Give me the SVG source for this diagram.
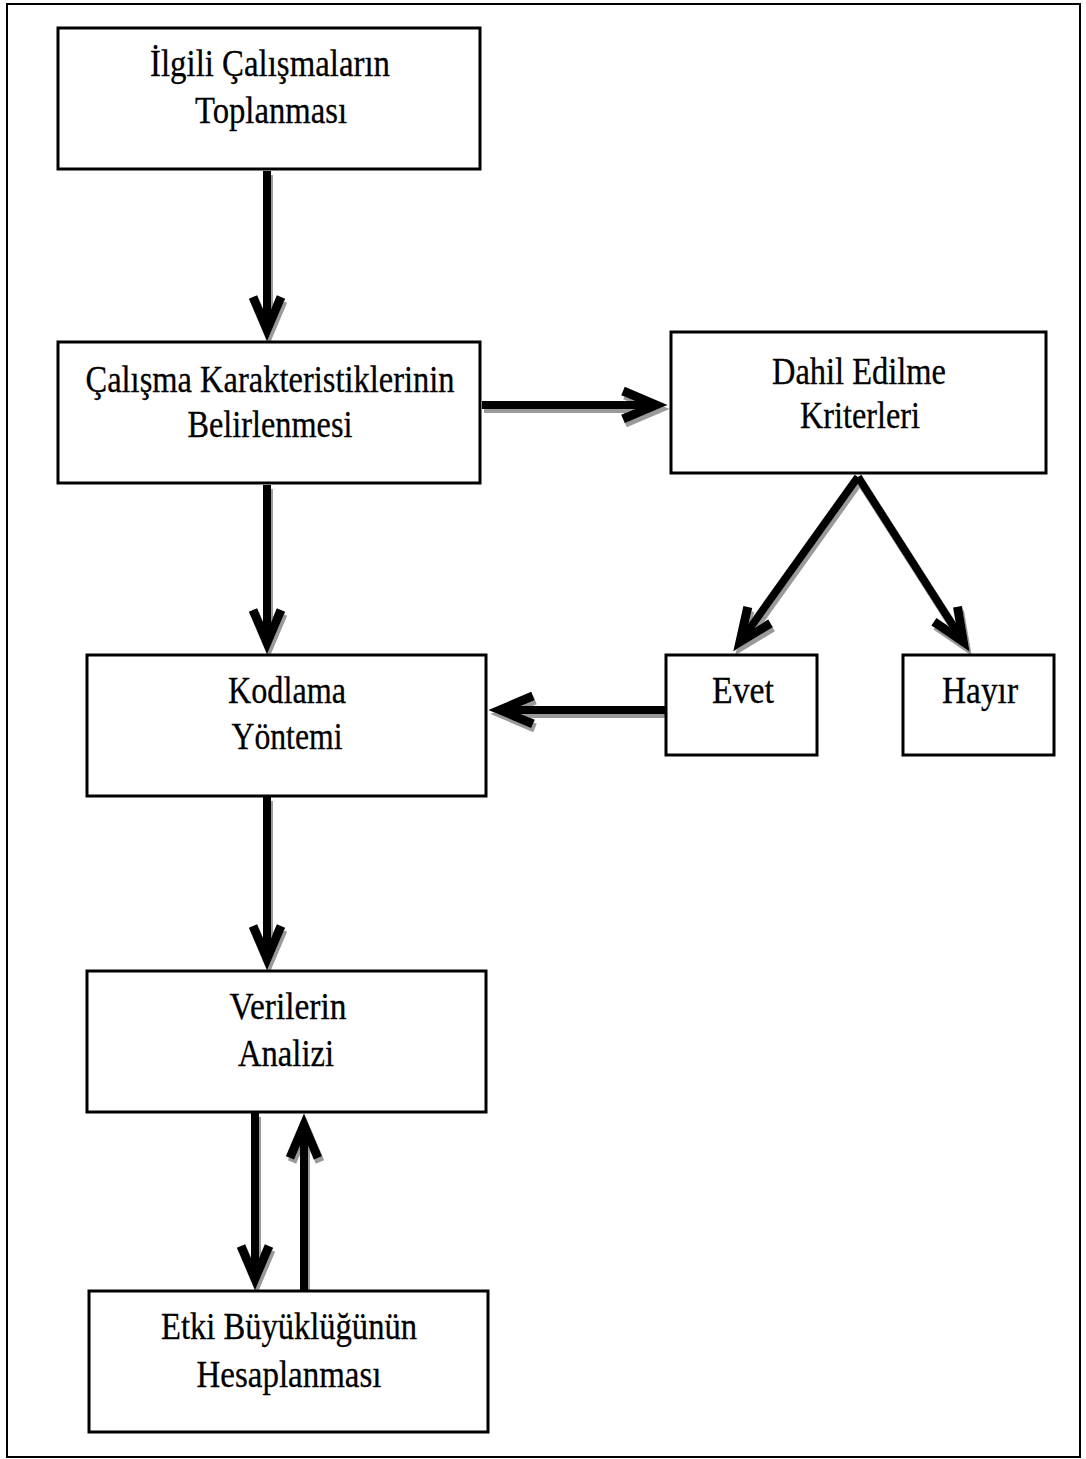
<svg xmlns="http://www.w3.org/2000/svg" width="1086" height="1459" viewBox="0 0 1086 1459">
<style>
.box{fill:#fff;stroke:#000;stroke-width:3}
.t{font-family:"Liberation Serif","Times New Roman",serif;font-size:38px;fill:#000;stroke:#000;stroke-width:0.3;text-anchor:middle}
.c{fill:none;stroke:#000;stroke-width:8}
</style>
<defs>
<marker id="ah" markerUnits="userSpaceOnUse" viewBox="-45 -22 70 44" markerWidth="70" markerHeight="44" refX="0" refY="0" orient="auto" overflow="visible">
<path d="M-33,-14 L0,0 L-33,14" fill="none" stroke="#000" stroke-width="9"/>
</marker>
<filter id="sh" x="-20%" y="-20%" width="140%" height="140%">
<feDropShadow dx="2" dy="4" stdDeviation="0.6" flood-color="#9a9a9a"/>
</filter>
</defs>
<rect x="0" y="0" width="1086" height="1459" fill="#fff"/>
<rect x="7" y="4" width="1073" height="1453" fill="none" stroke="#000" stroke-width="2"/>
<g id="connectors" filter="url(#sh)">
<path class="c" d="M267,171 V330" marker-end="url(#ah)"/>
<path class="c" d="M482,405 H656" marker-end="url(#ah)"/>
<path class="c" d="M267,485 V643" marker-end="url(#ah)"/>
<path class="c" d="M858,477 L740,642" marker-end="url(#ah)"/>
<path class="c" d="M858,477 L963.5,642" marker-end="url(#ah)"/>
<path class="c" d="M665,710 H500" marker-end="url(#ah)"/>
<path class="c" d="M267,797 V959" marker-end="url(#ah)"/>
<path class="c" d="M255,1113 V1279" marker-end="url(#ah)"/>
<path class="c" d="M304,1290 V1125" marker-end="url(#ah)"/>
</g>
<g id="n1"><rect class="box" x="58" y="28" width="422" height="141"/>
<text class="t" x="270" y="76" textLength="240" lengthAdjust="spacingAndGlyphs">İlgili Çalışmaların</text>
<text class="t" x="271" y="123" textLength="152" lengthAdjust="spacingAndGlyphs">Toplanması</text></g>
<g id="n2"><rect class="box" x="58" y="342" width="422" height="141"/>
<text class="t" x="270" y="392" textLength="369" lengthAdjust="spacingAndGlyphs">Çalışma Karakteristiklerinin</text>
<text class="t" x="270" y="437" textLength="165" lengthAdjust="spacingAndGlyphs">Belirlenmesi</text></g>
<g id="n3"><rect class="box" x="671" y="332" width="375" height="141"/>
<text class="t" x="859" y="384" textLength="174" lengthAdjust="spacingAndGlyphs">Dahil Edilme</text>
<text class="t" x="860" y="428" textLength="120" lengthAdjust="spacingAndGlyphs">Kriterleri</text></g>
<g id="n4"><rect class="box" x="87" y="655" width="399" height="141"/>
<text class="t" x="287" y="703" textLength="118" lengthAdjust="spacingAndGlyphs">Kodlama</text>
<text class="t" x="287" y="749" textLength="111" lengthAdjust="spacingAndGlyphs">Yöntemi</text></g>
<g id="n5"><rect class="box" x="666" y="655" width="151" height="100"/>
<text class="t" x="743" y="703" textLength="62" lengthAdjust="spacingAndGlyphs">Evet</text></g>
<g id="n6"><rect class="box" x="903" y="655" width="151" height="100"/>
<text class="t" x="980" y="703" textLength="76" lengthAdjust="spacingAndGlyphs">Hayır</text></g>
<g id="n7"><rect class="box" x="87" y="971" width="399" height="141"/>
<text class="t" x="288" y="1019" textLength="117" lengthAdjust="spacingAndGlyphs">Verilerin</text>
<text class="t" x="286" y="1066" textLength="96" lengthAdjust="spacingAndGlyphs">Analizi</text></g>
<g id="n8"><rect class="box" x="89" y="1291" width="399" height="141"/>
<text class="t" x="289" y="1339" textLength="256" lengthAdjust="spacingAndGlyphs">Etki Büyüklüğünün</text>
<text class="t" x="289" y="1387" textLength="185" lengthAdjust="spacingAndGlyphs">Hesaplanması</text></g>
</svg>
